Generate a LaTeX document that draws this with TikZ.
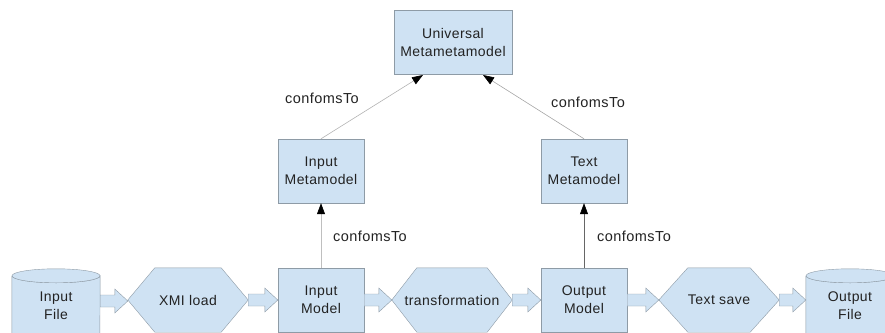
\documentclass[tikz,border=0pt]{standalone}
\usepackage{fontspec}
\setmainfont{Liberation Sans}[LetterSpace=3]
\usetikzlibrary{arrows.meta,calc,backgrounds}

\definecolor{boxfill}{HTML}{CFE2F3}
\definecolor{boxline}{HTML}{8E9BA6}
\definecolor{txt}{HTML}{222222}

\tikzset{
  x=1pt, y=-1pt,
  every node/.style={font=\fontsize{14}{18}\selectfont, text=txt, align=center},
  model/.style={draw=boxline, fill=boxfill, minimum width=86pt, minimum height=64pt, inner sep=0pt},
  hexa/.style={minimum width=120pt, minimum height=64pt, inner sep=0pt},
  drum/.style={minimum width=88pt, minimum height=64pt, inner sep=0pt},
  hexbody/.style={draw=boxline, fill=boxfill},
  blockarrow/.style={draw=boxline, fill=boxfill},
  conforms/.style={draw=#1, -{Triangle[length=11pt,width=8pt,color=black]}, line width=0.6pt},
  tag/.style={font=\fontsize{14.5}{16}\selectfont}
}

% hexagon behind a (shapeless) node
\newcommand\hexback[2]{%
  \path[hexbody] (#1.west) -- ([xshift=#2]#1.north west) -- ([xshift=-#2]#1.north east)
    -- (#1.east) -- ([xshift=-#2]#1.south east) -- ([xshift=#2]#1.south west) -- cycle;}

% storage drum behind a (shapeless) node
\newcommand\drumback[1]{%
  \path[hexbody] ([yshift=-7pt]#1.north west) -- ([yshift=-70pt]#1.north west)
    arc[start angle=180, end angle=360, x radius=44pt, y radius=7pt]
    -- ([yshift=-7pt]#1.north east)
    arc[start angle=0, end angle=-180, x radius=44pt, y radius=7pt];
  \path[hexbody] ($(#1.north)+(0,7)$) ellipse[x radius=44pt, y radius=7pt];}

% hollow block arrow from one node to the next
\newcommand\blockarr[2]{%
  \path let \p1=(#1.east), \p2=(#2.west) in [blockarrow]
    (\x1,\y1+6pt) -- (\x2-13pt,\y1+6pt) -- (\x2-13pt,\y1+12pt) -- (\x2,\y1)
    -- (\x2-13pt,\y1-12pt) -- (\x2-13pt,\y1-6pt) -- (\x1,\y1-6pt) -- cycle;}

\begin{document}
\begin{tikzpicture}
\path[use as bounding box, clip] (0,0) rectangle (885,332);

% meta levels
\node[model, minimum width=118pt] (umm) at (453,42) {Universal\\Metametamodel};
\node[model] (imm) at (321,171) {Input\\Metamodel};
\node[model] (tmm) at (584,171) {Text\\Metamodel};

% transformation chain
\node[drum] (infile) at (56,301) {};
\node[hexa] (xmi) at (188,300) {XMI load};
\node[model] (inmodel) at (321,300) {Input\\Model};
\node[hexa] (trans) at (452,300) {transformation};
\node[model] (outmodel) at (584,300) {Output\\Model};
\node[hexa] (tsave) at (719,300) {Text save};
\node[drum] (outfile) at (850,301) {};

\begin{scope}[on background layer]
  \drumback{infile}
  \drumback{outfile}
  \hexback{xmi}{27pt}
  \hexback{trans}{25pt}
  \hexback{tsave}{29pt}
\end{scope}

\node (infiletext) at ($(infile)+(0,5)$) {Input\\File};
\node (outfiletext) at ($(outfile)+(0,5)$) {Output\\File};

\blockarr{infile}{xmi}
\blockarr{xmi}{inmodel}
\blockarr{inmodel}{trans}
\blockarr{trans}{outmodel}
\blockarr{outmodel}{tsave}
\blockarr{tsave}{outfile}

% conformance relations
\coordinate (uL) at (423,75);
\coordinate (uR) at (483,75);
\draw[conforms=black!30] (imm.north) -- (uL);
\draw[conforms=black!35] (tmm.north) -- (uR);
\draw[conforms=black!25] (inmodel.north) -- (imm.south);
\draw[conforms=black!60] (outmodel.north) -- (tmm.south);

\node[tag] (c1) at (322,98) {confomsTo};
\node[tag] (c2) at (588,102) {confomsTo};
\node[tag] (c3) at (370,236) {confomsTo};
\node[tag] (c4) at (634,236) {confomsTo};
\end{tikzpicture}
\end{document}
